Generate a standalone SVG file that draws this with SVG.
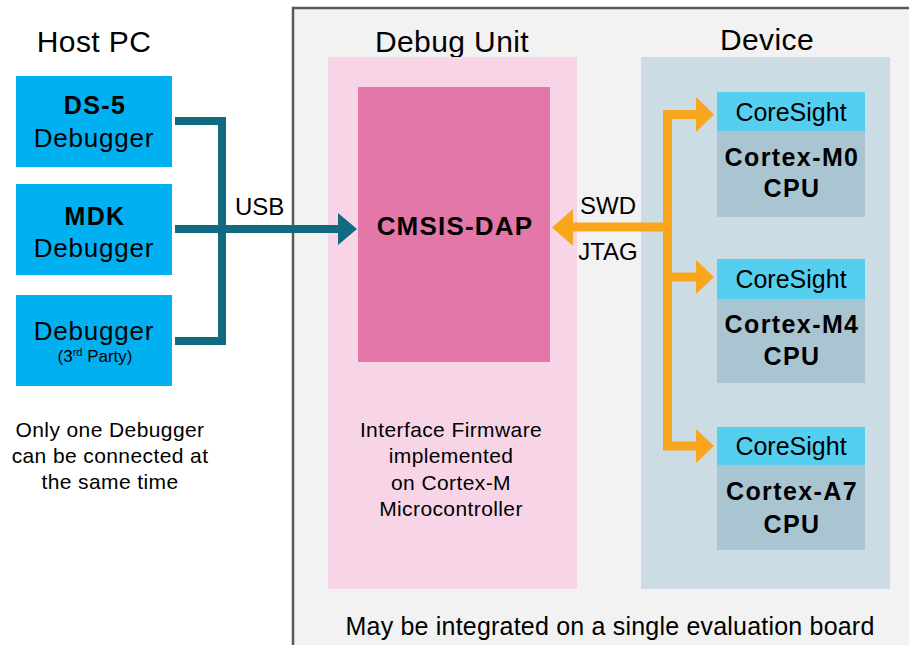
<svg xmlns="http://www.w3.org/2000/svg" width="909" height="645" viewBox="0 0 909 645">
<style>
text{font-family:"Liberation Sans",Arial,sans-serif;fill:#000;text-anchor:middle}
.title{font-size:30px;letter-spacing:0.4px}
.host{fill:#00b0f0}
.b{font-weight:bold;font-size:25px;letter-spacing:1.4px}
.r{font-size:26px;letter-spacing:0.8px}
.cs{fill:#55cff0}
.cpu{fill:#a9c5d2}
.cst{font-size:25px}
.note{font-size:21px;letter-spacing:0.4px}
.teal{fill:none;stroke:#126a80;stroke-width:8;stroke-linejoin:miter}
.orange{fill:none;stroke:#f9a61c;stroke-width:9;stroke-linejoin:miter}
.lbl{font-size:24px}
</style>
<rect width="909" height="645" fill="#ffffff"/>
<g id="board">
<rect x="293" y="8" width="630" height="650" fill="#f2f2f2" stroke="#5a5a5a" stroke-width="2.5"/>
<text x="610" y="635" style="font-size:25px;letter-spacing:0.2px">May be integrated on a single evaluation board</text>
</g>
<g id="host-pc">
<text class="title" x="94" y="52">Host PC</text>
<text class="note" x="110" y="437">Only one Debugger</text>
<text class="note" x="110" y="463">can be connected at</text>
<text class="note" x="110" y="489">the same time</text>
</g>
<g id="ds5">
<rect class="host" x="16" y="76" width="156" height="91"/>
<text class="b" x="95" y="114">DS-5</text>
<text class="r" x="94" y="147">Debugger</text>
</g>
<g id="mdk">
<rect class="host" x="16" y="184" width="156" height="91"/>
<text class="b" x="95" y="225">MDK</text>
<text class="r" x="94" y="257">Debugger</text>
</g>
<g id="third-party">
<rect class="host" x="16" y="295" width="156" height="91"/>
<text class="r" x="94" y="340">Debugger</text>
<text x="95" y="362" style="font-size:17px">(3<tspan style="font-size:11px" dy="-6">rd</tspan><tspan dy="6"> Party)</tspan></text>
</g>
<g id="debug-unit">
<text class="title" x="452" y="52">Debug Unit</text>
<rect x="328" y="57" width="249" height="532" fill="#f7d5e6"/>
<text class="note" x="451" y="437">Interface Firmware</text>
<text class="note" x="451" y="463">implemented</text>
<text class="note" x="451" y="490">on Cortex-M</text>
<text class="note" x="451" y="516">Microcontroller</text>
</g>
<g id="cmsis-dap">
<rect x="358" y="87" width="192" height="275" fill="#e377a8"/>
<text class="b" x="455" y="235" style="font-size:26px;letter-spacing:1.2px">CMSIS-DAP</text>
</g>
<g id="device">
<rect x="641" y="57" width="249" height="532" fill="#cbdce5"/>
<text class="title" x="767" y="50">Device</text>
</g>
<g id="cortex-m0">
<rect class="cpu" x="717" y="92" width="148" height="125"/>
<rect class="cs" x="717" y="92" width="148" height="39"/>
<text class="cst" x="791" y="121">CoreSight</text>
<text class="b" x="792" y="166">Cortex-M0</text>
<text class="b" x="792" y="197">CPU</text>
</g>
<g id="cortex-m4">
<rect class="cpu" x="717" y="259" width="148" height="124"/>
<rect class="cs" x="717" y="259" width="148" height="40"/>
<text class="cst" x="791" y="288">CoreSight</text>
<text class="b" x="792" y="333">Cortex-M4</text>
<text class="b" x="792" y="365">CPU</text>
</g>
<g id="cortex-a7">
<rect class="cpu" x="717" y="427" width="148" height="123"/>
<rect class="cs" x="717" y="427" width="148" height="38"/>
<text class="cst" x="791" y="455">CoreSight</text>
<text class="b" x="792" y="500">Cortex-A7</text>
<text class="b" x="792" y="533">CPU</text>
</g>
<g id="connectors">
<path class="teal" d="M175 121 H222 V341 H175"/>
<path class="teal" d="M175 229 H340"/>
<polygon points="338,213 357,229 338,245" fill="#126a80"/>
<text class="lbl" x="235" y="215" style="text-anchor:start">USB</text>
<path class="orange" d="M698 114.5 H667.5 V446 H698"/>
<path class="orange" d="M667.5 277 H698"/>
<path class="orange" d="M667.5 227 H572"/>
<polygon points="696,97 714,114.5 696,132" fill="#f9a61c"/>
<polygon points="696,260 714,277 696,294" fill="#f9a61c"/>
<polygon points="696,429 714,446 696,463" fill="#f9a61c"/>
<polygon points="573,209 552,227.5 573,246" fill="#f9a61c"/>
<text class="lbl" x="608" y="214">SWD</text>
<text class="lbl" x="608" y="260">JTAG</text>
</g>
</svg>
